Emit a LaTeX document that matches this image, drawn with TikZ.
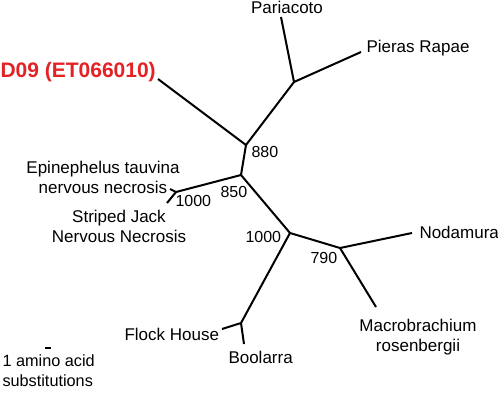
\documentclass[tikz,border=0pt]{standalone}
\usepackage{fontspec}
\setmainfont{Liberation Sans}
\definecolor{queryred}{RGB}{228,34,38}

\tikzset{every picture/.style={line width=0.75pt}}
\tikzset{
  branch/.style={line width=1.5pt},
  taxon/.style={inner sep=0pt, font=\fontsize{12.75}{15}\selectfont, align=center},
  boot/.style={inner sep=0pt, font=\fontsize{12}{14}\selectfont},
  query/.style={inner sep=0pt, text=queryred, font=\fontsize{15.75}{18}\selectfont\bfseries},
}

\begin{document}
\begin{tikzpicture}[x=0.75pt,y=0.75pt,yscale=-1,xscale=1]
\useasboundingbox (0,0) rectangle (498,400);

%Tree points
\coordinate (n880) at (246,145);
\coordinate (nPP) at (294,82);
\coordinate (tPar) at (281,17);
\coordinate (tPie) at (361,52);
\coordinate (tD09) at (158,79);
\coordinate (n850) at (241,175);
\coordinate (nEpi) at (176,192);
\coordinate (tEpi) at (170,189);
\coordinate (tSJ) at (167,203);
\coordinate (n1000) at (290,233);
\coordinate (n790) at (340,248);
\coordinate (tNod) at (412,233);
\coordinate (tMac) at (376,307);
\coordinate (nFB) at (241,323);
\coordinate (tFl) at (222,329);
\coordinate (tBoo) at (244,344);

%Straight Lines
\draw [branch] (tD09) -- (n880) -- (nPP) -- (tPar);
\draw [branch] (nPP) -- (tPie);
\draw [branch] (n880) -- (n850) -- (nEpi) -- (tEpi);
\draw [branch] (nEpi) -- (tSJ);
\draw [branch] (n850) -- (n1000) -- (n790) -- (tNod);
\draw [branch] (n790) -- (tMac);
\draw [branch] (n1000) -- (nFB) -- (tFl);
\draw [branch] (nFB) -- (tBoo);

% Text Node
\node [query, anchor=base west] (lD09) at (0,77) {D09 (ET066010)};
% Text Node
\node [taxon, anchor=base] (lPar) at (287,13) {Pariacoto};
% Text Node
\node [taxon, anchor=base west] (lPie) at (366,52) {Pieras Rapae};
% Text Node
\node [taxon] (lEpi) at (103,177) {Epinephelus tauvina\\nervous necrosis};
% Text Node
\node [taxon] (lSJ) at (119,226) {Striped Jack\\Nervous Necrosis};
% Text Node
\node [taxon, anchor=base west] (lNod) at (419,238) {Nodamura};
% Text Node
\node [taxon] (lMac) at (418,337) {Macrobrachium\\rosenbergii};
% Text Node
\node [taxon, anchor=base west] (lFl) at (124,340) {Flock House};
% Text Node
\node [taxon, anchor=base west] (lBoo) at (228,363) {Boolarra};

%Bootstrap values
\node [boot, anchor=base west] (b880) at (251,157) {880};
\node [boot, anchor=base west] (b850) at (220,197) {850};
\node [boot, anchor=base west] (bEpi) at (175,206) {1000};
\node [boot, anchor=base west] (b1000) at (245,242) {1000};
\node [boot, anchor=base west] (b790) at (310,263) {790};

%Scale bar
\coordinate (sbL) at (45,348);
\coordinate (sbR) at (51,348);
\draw [branch] (sbL) -- (sbR);
\node [inner sep=0pt, anchor=north west, align=left, font=\fontsize{12.2}{15}\selectfont] (lScale) at (2,354) {1 amino acid\\substitutions};

\end{tikzpicture}
\end{document}
